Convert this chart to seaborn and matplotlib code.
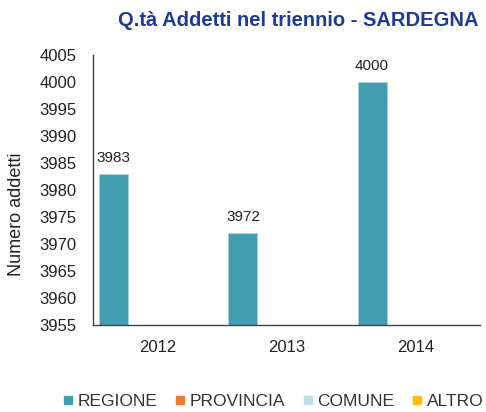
import numpy as np
import pandas as pd
import seaborn as sns
import matplotlib.pyplot as plt
from matplotlib.lines import Line2D

years = ['2012', '2013', '2014']
series = ['REGIONE', 'PROVINCIA', 'COMUNE', 'ALTRO']
regione = [3983, 3972, 4000]
provincia = [0, 0, 0]
comune = [0, 0, 0]
altro = [0, 0, 0]
colors = ['#409EAF', '#ED7D31', '#BFE0E5', '#FFC000']

sns.set_style('white')
plt.rcParams['font.family'] = ['Liberation Sans', 'DejaVu Sans']

df = pd.DataFrame({
    'anno': years * 4,
    'serie': [s for s in series for _ in years],
    'valore': regione + provincia + comune + altro,
})

fig = plt.figure(figsize=(4.86, 4.12), dpi=100)
ax = fig.add_axes([0.191, 0.211, 0.797, 0.656])

sns.barplot(data=df, x='anno', y='valore', hue='serie', hue_order=series,
            order=years, palette=colors, width=0.9, saturation=1,
            errorbar=None, legend=False, ax=ax,
            edgecolor='#A9D5DD', linewidth=0.6)

# value labels on the REGIONE bars only
for bar, v in zip(ax.containers[0], regione):
    ax.text(bar.get_x() + bar.get_width() / 2, v + 2.2, str(v),
            ha='center', va='baseline', fontsize=11, color='#222222')

ax.set_ylim(3955, 4005)
ax.set_yticks(np.arange(3955, 4006, 5))
ax.set_xlim(-0.5, 2.5)
ax.set_xticks([0.5, 1.5, 2.5], minor=True)
ax.tick_params(axis='x', which='minor', length=5, width=1, color='#444444', direction='out')
ax.tick_params(axis='x', which='major', length=0, labelsize=12, pad=11, labelcolor='#222222')
ax.tick_params(axis='y', length=4, width=1, color='#444444', direction='out',
               labelsize=12, labelcolor='#222222', pad=8)
ax.set_xlabel('')
ax.set_ylabel('Numero addetti', fontsize=13, color='#222222')
ax.yaxis.set_label_coords(-0.174, 0.41)

for s in ['top', 'right']:
    ax.spines[s].set_visible(False)
for s in ['left', 'bottom']:
    ax.spines[s].set_color('#444444')
    ax.spines[s].set_linewidth(1)

fig.text(0.984, 0.95, 'Q.tà Addetti nel triennio - SARDEGNA', ha='right', va='center',
         fontsize=14.5, fontweight='bold', color='#1F3A93')

handles = [Line2D([], [], marker='s', linestyle='', markersize=6,
                  markerfacecolor=c, markeredgecolor=c) for c in colors]
fig.legend(handles, series, loc='center', bbox_to_anchor=(0.563, 0.025), ncol=4,
           frameon=False, fontsize=12.5, handletextpad=0.3, columnspacing=1.05,
           handlelength=0.5, borderpad=0, labelcolor='#333333')

fig.savefig('out.png', dpi=100)
